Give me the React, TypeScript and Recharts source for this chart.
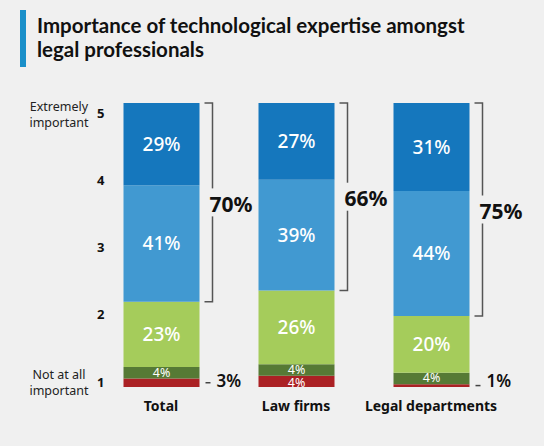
import React from 'react';
import { BarChart, Bar, XAxis, YAxis, LabelList } from 'recharts';

const categories = ['Total', 'Law firms', 'Legal departments'];
const notAtAll = [3, 4, 1];
const low = [4, 4, 4];
const mid = [23, 26, 20];
const high = [41, 39, 44];
const extreme = [29, 27, 31];
const topTwo = [70, 66, 75];
const levelTicks = [1, 2, 3, 4, 5];

const data = categories.map((name, i) => ({
  name,
  s1: notAtAll[i],
  s2: low[i],
  s3: mid[i],
  s4: high[i],
  s5: extreme[i],
}));

const FONT = '"Noto Sans", "Open Sans", sans-serif';
const BG = '#f0f0f0';
const COLORS = ['#ab2124', '#567a35', '#a5cc5b', '#4199d1', '#1577bd'];

const num = (v: any) => (typeof v === 'number' ? v : parseFloat(v) || 0);

const bigLabel = (props: any) => {
  const x = num(props.x), y = num(props.y), w = num(props.width), h = num(props.height);
  return (
    <text x={x + w / 2} y={y + h / 2} dy="0.36em" textAnchor="middle" fill="#fff" fontSize={19} fontWeight={500} fontFamily={FONT}>
      {props.value}%
    </text>
  );
};

const smallLabel = (props: any) => {
  const x = num(props.x), y = num(props.y), w = num(props.width), h = num(props.height);
  return (
    <text x={x + w / 2} y={y + h / 2} dy="0.3em" textAnchor="middle" fill="#fff" fontSize={12.5} fontFamily={FONT}>
      {props.value}%
    </text>
  );
};

const redLabel = (props: any) => {
  const x = num(props.x), y = num(props.y), w = num(props.width), h = num(props.height);
  const v = num(props.value);
  if (v >= 4) {
    return (
      <text x={x + w / 2} y={y + h / 2} dy="0.45em" textAnchor="middle" fill="#fff" fontSize={12.5} fontFamily={FONT}>
        {v}%
      </text>
    );
  }
  const bottom = y + h;
  return (
    <g>
      <line x1={x + w + 6} x2={x + w + 11} y1={y + h / 2} y2={y + h / 2} stroke="#444" strokeWidth={1.5} />
      <text x={x + w + 17} y={bottom - 6} dy="0.36em" fill="#111" fontSize={17} fontWeight={600} fontFamily={FONT}>
        {v}%
      </text>
    </g>
  );
};

const bracketLabel = (props: any) => {
  const x = num(props.x), y = num(props.y), w = num(props.width), h = num(props.height);
  const i = props.index ?? 0;
  const per = h / extreme[i];
  const top = y;
  const bottom = y + h + high[i] * per;
  const lx = x + w + 13;
  const mid = (top + bottom) / 2;
  return (
    <g>
      <polyline
        points={`${x + w + 5},${top} ${lx},${top} ${lx},${bottom} ${x + w + 5},${bottom}`}
        fill="none"
        stroke="#555"
        strokeWidth={1.5}
      />
      <rect x={lx - 6} y={mid - 14} width={46} height={28} fill={BG} />
      <text x={lx - 3} y={mid + 2} dy="0.36em" fill="#111" fontSize={21} fontWeight={700} fontFamily={FONT}>
        {topTwo[i]}%
      </text>
    </g>
  );
};

const LevelTick = (props: any) => {
  const { x, y, payload } = props;
  const v = payload.value;
  const rx = x + 19;
  return (
    <g>
      <text x={rx} y={y} dy="0.36em" textAnchor="end" fill="#111" fontSize={13} fontWeight={700} fontFamily={FONT}>
        {v}
      </text>
      {v === 5 && (
        <text x={59} y={y - 7} textAnchor="middle" fill="#222" fontSize={12.5} fontFamily={FONT}>
          <tspan x={59} dy="0.36em">Extremely</tspan>
          <tspan x={59} dy="16">important</tspan>
        </text>
      )}
      {v === 1 && (
        <text x={59} y={y - 8} textAnchor="middle" fill="#222" fontSize={12.5} fontFamily={FONT}>
          <tspan x={59} dy="0.36em">Not at all</tspan>
          <tspan x={59} dy="16">important</tspan>
        </text>
      )}
    </g>
  );
};

const CatTick = (props: any) => {
  const { x, y, payload } = props;
  return (
    <text x={x} y={y + 16} textAnchor="middle" fill="#111" fontSize={14} fontWeight={700} fontFamily={FONT}>
      {payload.value}
    </text>
  );
};

export default function App() {
  return (
    <div style={{ position: 'fixed', left: 0, top: 0, width: 544, height: 446, background: BG, fontFamily: FONT }}>
      <div style={{ position: 'absolute', left: 20, top: 10, width: 6, height: 57, background: '#1a8fc9' }} />
      <div
        style={{
          position: 'absolute',
          left: 37,
          top: 13,
          fontFamily: 'Lato, "Noto Sans", sans-serif',
          fontSize: 20.5,
          lineHeight: '24px',
          fontWeight: 700,
          color: '#111',
        }}
      >
        Importance of technological expertise amongst
        <br />
        legal professionals
      </div>
      <div style={{ position: 'absolute', left: 0, top: 0 }}>
        <BarChart width={544} height={446} data={data} margin={{ top: 103, right: 45.5, bottom: 29, left: 0 }} barSize={76}>
          <XAxis dataKey="name" axisLine={false} tickLine={false} height={30} tick={<CatTick />} />
          <YAxis yAxisId="pct" hide domain={[0, 100]} type="number" />
          <YAxis
            yAxisId="lvl"
            type="number"
            domain={[0.926, 5.149]}
            allowDataOverflow
            ticks={levelTicks}
            width={93.5}
            axisLine={false}
            tickLine={false}
            tick={<LevelTick />}
          />
          <Bar yAxisId="pct" dataKey="s1" stackId="a" fill={COLORS[0]} isAnimationActive={false}>
            <LabelList dataKey="s1" content={redLabel} />
          </Bar>
          <Bar yAxisId="pct" dataKey="s2" stackId="a" fill={COLORS[1]} isAnimationActive={false}>
            <LabelList dataKey="s2" content={smallLabel} />
          </Bar>
          <Bar yAxisId="pct" dataKey="s3" stackId="a" fill={COLORS[2]} isAnimationActive={false}>
            <LabelList dataKey="s3" content={bigLabel} />
          </Bar>
          <Bar yAxisId="pct" dataKey="s4" stackId="a" fill={COLORS[3]} isAnimationActive={false}>
            <LabelList dataKey="s4" content={bigLabel} />
          </Bar>
          <Bar yAxisId="pct" dataKey="s5" stackId="a" fill={COLORS[4]} isAnimationActive={false}>
            <LabelList dataKey="s5" content={bigLabel} />
            <LabelList dataKey="s5" content={bracketLabel} />
          </Bar>
        </BarChart>
      </div>
    </div>
  );
}
